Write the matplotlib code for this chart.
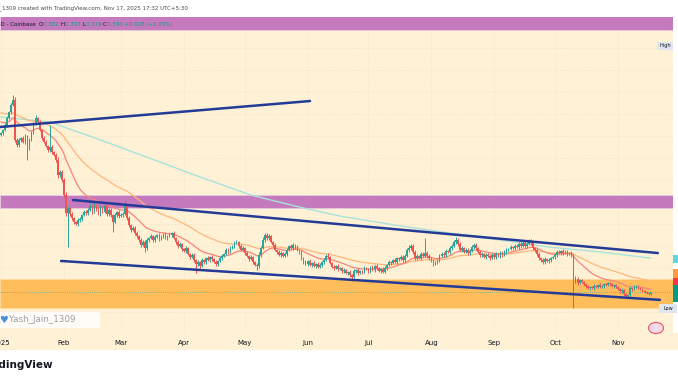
import matplotlib
matplotlib.use("Agg")
import matplotlib.pyplot as plt
import matplotlib.dates as mdates
from matplotlib.patches import Rectangle, Ellipse
import pandas as pd

W, H = 678, 381

# daily candles, Jan 1 2025 .. Nov 17 2025
start_date = "2025-01-01"
first_open = 1.105
closes = [
    1.114, 1.127, 1.150, 1.182, 1.209, 1.241, 1.264, 1.082, 1.059, 1.082,
    1.091, 1.073, 1.100, 1.045, 1.082, 1.118, 1.155, 1.182, 1.164, 1.127,
    1.091, 1.073, 1.055, 1.036, 1.050, 1.027, 1.014, 0.991, 0.923, 0.936,
    0.900, 0.832, 0.750, 0.773, 0.745, 0.727, 0.709, 0.700, 0.718, 0.723,
    0.741, 0.755, 0.750, 0.764, 0.782, 0.755, 0.786, 0.768, 0.745, 0.777,
    0.755, 0.782, 0.745, 0.764, 0.741, 0.709, 0.741, 0.755, 0.736, 0.741,
    0.745, 0.786, 0.727, 0.695, 0.673, 0.682, 0.659, 0.645, 0.627, 0.605,
    0.618, 0.591, 0.627, 0.636, 0.645, 0.627, 0.641, 0.650, 0.632, 0.645,
    0.655, 0.636, 0.645, 0.650, 0.659, 0.636, 0.618, 0.600, 0.609, 0.586,
    0.577, 0.591, 0.564, 0.550, 0.559, 0.536, 0.518, 0.527, 0.509, 0.536,
    0.527, 0.545, 0.536, 0.550, 0.541, 0.527, 0.518, 0.532, 0.545, 0.555,
    0.564, 0.582, 0.573, 0.591, 0.600, 0.614, 0.618, 0.600, 0.582, 0.591,
    0.568, 0.555, 0.541, 0.550, 0.527, 0.514, 0.509, 0.559, 0.591, 0.627,
    0.650, 0.636, 0.645, 0.618, 0.605, 0.582, 0.573, 0.559, 0.568, 0.555,
    0.564, 0.582, 0.600, 0.591, 0.605, 0.595, 0.582, 0.573, 0.545, 0.527,
    0.518, 0.532, 0.514, 0.523, 0.509, 0.518, 0.505, 0.514, 0.527, 0.536,
    0.555, 0.550, 0.523, 0.505, 0.500, 0.509, 0.495, 0.500, 0.486, 0.491,
    0.477, 0.482, 0.468, 0.459, 0.486, 0.491, 0.477, 0.486, 0.482, 0.500,
    0.495, 0.486, 0.505, 0.491, 0.509, 0.500, 0.486, 0.495, 0.482, 0.500,
    0.514, 0.527, 0.523, 0.536, 0.527, 0.545, 0.541, 0.550, 0.536, 0.555,
    0.582, 0.591, 0.600, 0.573, 0.545, 0.555, 0.545, 0.564, 0.555, 0.568,
    0.555, 0.545, 0.532, 0.518, 0.527, 0.536, 0.555, 0.564, 0.559, 0.577,
    0.573, 0.591, 0.600, 0.618, 0.627, 0.609, 0.582, 0.591, 0.573, 0.582,
    0.568, 0.577, 0.595, 0.605, 0.591, 0.573, 0.559, 0.564, 0.550, 0.559,
    0.555, 0.545, 0.559, 0.550, 0.564, 0.555, 0.568, 0.559, 0.573, 0.582,
    0.586, 0.595, 0.591, 0.600, 0.595, 0.609, 0.600, 0.614, 0.600, 0.609,
    0.623, 0.614, 0.591, 0.582, 0.564, 0.545, 0.536, 0.527, 0.541, 0.532,
    0.536, 0.545, 0.550, 0.559, 0.573, 0.568, 0.577, 0.568, 0.573, 0.564,
    0.568, 0.555, 0.441, 0.450, 0.432, 0.445, 0.436, 0.427, 0.418, 0.409,
    0.414, 0.409, 0.418, 0.414, 0.423, 0.414, 0.418, 0.427, 0.423, 0.432,
    0.427, 0.418, 0.423, 0.414, 0.405, 0.395, 0.400, 0.382, 0.373, 0.377,
    0.409, 0.405, 0.414, 0.418, 0.409, 0.405, 0.395, 0.391, 0.386, 0.382, 0.390,
]
# wick lengths above / below the body, in thousandths of a dollar
upper_wick = [
    6, 5, 8, 7, 6, 10, 23, 12, 8, 10,
    6, 9, 7, 5, 8, 6, 10, 14, 6, 8,
    5, 7, 9, 6, 100, 8, 6, 10, 12, 9,
    8, 10, 12, 8, 6, 9, 7, 5, 10, 8,
    6, 9, 7, 8, 10, 6, 12, 7, 8, 9,
    6, 10, 7, 9, 8, 5, 10, 6, 8, 7,
    9, 23, 10, 8, 6, 9, 7, 8, 6, 10,
    7, 8, 9, 6, 8, 7, 9, 6, 8, 7,
    6, 8, 7, 9, 6, 8, 5, 7, 9, 6,
    7, 8, 6, 5, 8, 7, 6, 9, 5, 8,
    7, 6, 8, 5, 7, 6, 9, 6, 8, 7,
    6, 9, 7, 8, 6, 10, 7, 6, 8, 7,
    5, 7, 6, 8, 5, 6, 7, 12, 10, 14,
    9, 11, 8, 7, 6, 8, 5, 7, 9, 6,
    7, 8, 6, 9, 7, 6, 8, 5, 7, 6,
    8, 6, 7, 5, 8, 6, 7, 9, 6, 8,
    7, 13, 6, 5, 7, 6, 8, 5, 6, 7,
    5, 6, 7, 5, 8, 6, 7, 5, 6, 8,
    6, 7, 5, 8, 6, 7, 5, 6, 8, 7,
    6, 8, 7, 6, 9, 7, 6, 8, 7, 9,
    10, 12, 9, 8, 7, 9, 6, 8, 7, 68,
    8, 7, 6, 8, 7, 6, 9, 7, 8, 10,
    7, 9, 8, 10, 14, 9, 7, 8, 6, 9,
    7, 8, 10, 9, 7, 6, 8, 7, 6, 8,
    7, 6, 8, 7, 9, 6, 8, 7, 9, 8,
    7, 9, 6, 8, 7, 10, 8, 9, 7, 10,
    9, 8, 7, 6, 8, 7, 6, 8, 7, 6,
    8, 7, 6, 9, 7, 8, 6, 9, 7, 8,
    6, 8, 9, 12, 8, 7, 6, 5, 6, 5,
    6, 5, 7, 6, 5, 7, 6, 5, 7, 6,
    5, 7, 6, 5, 6, 5, 7, 6, 5, 6,
    9, 6, 7, 5, 6, 5, 6, 5, 4, 5, 3,
]
lower_wick = [
    6, 8, 5, 7, 6, 8, 6, 10, 9, 7,
    8, 6, 9, 54, 7, 6, 8, 5, 7, 6,
    8, 7, 6, 9, 7, 8, 6, 9, 12, 10,
    9, 10, 14, 155, 8, 7, 9, 6, 8, 7,
    8, 6, 9, 7, 6, 8, 7, 9, 6, 8,
    7, 6, 9, 7, 8, 45, 6, 8, 7, 6,
    8, 6, 9, 7, 8, 6, 9, 7, 8, 10,
    6, 18, 7, 8, 6, 9, 7, 6, 8, 7,
    8, 6, 7, 5, 8, 6, 7, 9, 6, 8,
    6, 8, 7, 9, 6, 8, 41, 7, 9, 6,
    8, 7, 6, 8, 7, 6, 9, 7, 6, 8,
    7, 6, 8, 7, 6, 8, 7, 9, 6, 7,
    8, 7, 9, 6, 8, 7, 18, 8, 7, 6,
    8, 7, 9, 6, 8, 7, 9, 6, 8, 7,
    6, 8, 7, 6, 9, 7, 6, 8, 7, 9,
    6, 8, 7, 9, 6, 8, 7, 6, 8, 7,
    6, 8, 7, 6, 8, 5, 7, 6, 8, 7,
    6, 8, 7, 18, 6, 8, 7, 6, 8, 7,
    6, 8, 7, 6, 8, 7, 6, 8, 7, 6,
    7, 6, 8, 7, 6, 8, 7, 6, 8, 7,
    6, 8, 7, 9, 8, 7, 6, 8, 7, 6,
    8, 9, 7, 10, 6, 8, 7, 6, 8, 7,
    6, 8, 7, 6, 8, 7, 6, 8, 7, 6,
    8, 7, 6, 8, 7, 6, 8, 7, 6, 8,
    7, 9, 6, 8, 7, 6, 8, 7, 6, 8,
    7, 6, 8, 7, 6, 8, 7, 6, 8, 7,
    6, 8, 7, 9, 8, 7, 10, 8, 7, 6,
    8, 7, 6, 8, 7, 6, 8, 7, 6, 8,
    7, 6, 123, 10, 8, 7, 6, 8, 7, 6,
    7, 6, 8, 7, 6, 7, 6, 8, 7, 6,
    7, 6, 8, 7, 6, 9, 7, 8, 9, 7,
    6, 8, 7, 6, 5, 7, 6, 5, 6, 5, 3,
]

ema_fast_span, ema_fast_seed = 20, 1.17
ema_slow_span, ema_slow_seed = 50, 1.21
long_ma_dates = ["2025-01-01", "2025-01-25", "2025-02-19", "2025-03-15", "2025-04-09",
                 "2025-05-04", "2025-05-28", "2025-06-17", "2025-07-17", "2025-08-10",
                 "2025-09-04", "2025-09-28", "2025-10-23", "2025-11-17"]
long_ma_values = [1.186, 1.164, 1.082, 1.000, 0.914, 0.832, 0.777, 0.736, 0.691, 0.659,
                  0.627, 0.595, 0.573, 0.545]

# drawn zones (price ranges) and trend lines
zone_top = (1.582, 1.70)
zone_mid = (0.773, 0.832)
zone_low = (0.318, 0.450)
trend_up_dates, trend_up_prices = ["2024-12-31 12:00", "2025-06-02 05:00"], [1.141, 1.259]
chan_top_dates, chan_top_prices = ["2025-02-05 12:00", "2025-11-20 14:00"], [0.809, 0.568]
chan_bot_dates, chan_bot_prices = ["2025-01-30 14:00", "2025-11-21 14:00"], [0.532, 0.355]

month_ticks = ["2025-01-01", "2025-02-01", "2025-03-01", "2025-04-01", "2025-05-01", "2025-06-01",
               "2025-07-01", "2025-08-01", "2025-09-01", "2025-10-01", "2025-11-01"]
month_labels = ["2025", "Feb", "Mar", "Apr", "May", "Jun", "Jul", "Aug", "Sep", "Oct", "Nov"]

CREAM = "#fff1d6"
UP, DOWN = "#26a69a", "#ef5350"


def ema(values, span, seed):
    a = 2.0 / (span + 1)
    out, e = [], seed
    for v in values:
        e = a * v + (1 - a) * e
        out.append(e)
    return out


dates = pd.date_range(start_date, periods=len(closes), freq="D")
x = mdates.date2num(dates)
opens = [first_open] + closes[:-1]
highs = [max(o, c) + u / 1000 for o, c, u in zip(opens, closes, upper_wick)]
lows = [min(o, c) - l / 1000 for o, c, l in zip(opens, closes, lower_wick)]
colors = [UP if c >= o else DOWN for o, c in zip(opens, closes)]

fig = plt.figure(figsize=(W / 100, H / 100), dpi=100, facecolor="white")
fig.patches.append(Rectangle((0, (H - 350) / H), 1, 17 / H, transform=fig.transFigure,
                             facecolor=CREAM, edgecolor="none", zorder=-1))
ax = fig.add_axes([0, (H - 333) / H, 673 / W, 316 / H])
ax.set_facecolor(CREAM)

x0 = mdates.date2num(pd.Timestamp(start_date)) - 0.49
ax.set_xlim(x0, x0 + 673 / 2.03)
ax.set_ylim(0.2045, 1.641)

# grid
for t in month_ticks:
    ax.axvline(mdates.date2num(pd.Timestamp(t)), color="#f0dfbd", lw=0.5, ls=":", zorder=0.5)
for p in [0.3, 0.4, 0.5, 0.6, 0.7, 0.8, 0.9, 1.0, 1.1, 1.2, 1.3, 1.4, 1.5]:
    ax.axhline(p, color="#f0dfbd", lw=0.5, ls=":", zorder=0.5)

# zones
ax.axhspan(*zone_top, color="#c47abd", ec="#e8c9e2", lw=0.6, zorder=1)
ax.axhspan(*zone_mid, color="#c47abd", ec="#e8c9e2", lw=0.6, zorder=1)
ax.axhspan(*zone_low, color="#ffbd5c", ec="#ffd9a0", lw=0.6, zorder=1)

# moving averages
ax.plot(mdates.date2num(pd.to_datetime(long_ma_dates)), long_ma_values,
        color="#a9e2d9", lw=1.0, zorder=2)
ax.plot(x, ema(closes, ema_slow_span, ema_slow_seed), color="#ffb678", lw=0.9, zorder=2)
ax.plot(x, ema(closes, ema_fast_span, ema_fast_seed), color="#f7847b", lw=0.9, zorder=2)

# price line
ax.axhline(closes[-1], color=UP, lw=0.6, ls=(0, (1, 1.5)), alpha=0.7, zorder=2)

# candles
ax.vlines(x, lows, highs, colors=colors, lw=0.7, zorder=3)
bodies = [max(abs(c - o), 0.003) for o, c in zip(opens, closes)]
ax.bar(x, bodies, bottom=[min(o, c) for o, c in zip(opens, closes)], width=0.82,
       color=colors, lw=0, zorder=3)

# trend lines
for d, p in [(trend_up_dates, trend_up_prices), (chan_top_dates, chan_top_prices),
             (chan_bot_dates, chan_bot_prices)]:
    ax.plot(mdates.date2num(pd.to_datetime(d)), p, color="#233a97", lw=1.8,
            solid_capstyle="round", zorder=4)

ax.set_xticks(mdates.date2num(pd.to_datetime(month_ticks)))
ax.set_xticklabels(month_labels)
ax.tick_params(axis="x", length=0, pad=5, labelsize=5, labelcolor="#131722")
ax.set_yticks([])
for s in ax.spines.values():
    s.set_visible(False)


def fp(px, py):
    return px / W, 1 - py / H


# header
fig.text(*fp(188, 8), "Yash_Jain_1309 created with TradingView.com, Nov 17, 2025 17:32 UTC+5:30",
         ha="right", va="center", fontsize=3.95, color="#4a4a4a")

# legend row on the top zone
leg = dict(fontsize=4.0, ha="left", va="bottom", annotation_clip=False)
prev = ax.annotate("SD - Coinbase  ", xy=(-3, H - 27), xycoords="figure pixels",
                   color="#131722", **leg)
for lab, val in [("O", "0.382"), ("H", "0.393"), ("L", "0.379"), ("C", "0.390")]:
    prev = ax.annotate(lab, xy=(1, 0), xycoords=prev, color="#131722", **leg)
    prev = ax.annotate(val + " ", xy=(1, 0), xycoords=prev, color="#1a9c8a", **leg)
ax.annotate("+0.008 (+2.09%)", xy=(1, 0), xycoords=prev, color="#1a9c8a", **leg)

# High / Low labels and axis tags
for label, (px, py, w, h) in [("High", (657, 42, 16, 8)), ("Low", (659, 304, 18, 9))]:
    fig.patches.append(Rectangle(fp(px, py + h), w / W, h / H, transform=fig.transFigure,
                                 facecolor="#dfe6ef", edgecolor="none", zorder=5))
    fig.text(*fp(px + w / 2, py + h / 2), label, ha="center", va="center",
             fontsize=3.6, color="#131722", zorder=6)
for col, (ya, yb) in [("#62d6dc", (255, 263)), ("#ff9b3d", (269, 278)),
                      ("#f23645", (278, 285)), ("#089981", (285, 302))]:
    fig.patches.append(Rectangle(fp(673, yb), 5 / W, (yb - ya) / H, transform=fig.transFigure,
                                 facecolor=col, edgecolor="none", zorder=5))

# watermark
fig.patches.append(Rectangle(fp(0, 328), 100 / W, 16 / H, transform=fig.transFigure,
                             facecolor="white", alpha=0.85, edgecolor="none", zorder=5))
fig.text(*fp(-1, 320), "\u2665", ha="left", va="center", fontsize=7, color="#4a8fdc", zorder=6)
fig.text(*fp(9, 320), "Yash_Jain_1309", ha="left", va="center", fontsize=6.3,
         color="#9b9ea6", zorder=6)
fig.patches.append(Ellipse(fp(656, 328), 15 / W, 11 / H, transform=fig.transFigure,
                           facecolor="#f3dbe6", edgecolor="#e05565", lw=0.8, zorder=5))

# footer brand
fig.text(*fp(53, 365), "TradingView", ha="right", va="center", fontsize=7.5,
         fontweight="bold", color="#131722")

fig.savefig("out.png", dpi=100, facecolor="white")
